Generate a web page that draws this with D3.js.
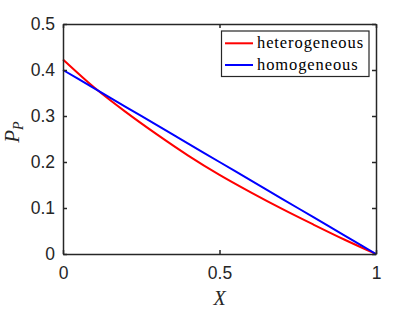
<!DOCTYPE html>
<html lang="en">
  <head>
    <script src="https://d3js.org/d3.v7.min.js"></script>
    <meta charset="utf-8">
    <title></title>
    <style>
      body { margin: 0; background: #fff; }
    </style>
  </head>
  <body>
    <svg id="chart"></svg>
    <script type="text/javascript">

     // values
     var xValues = [0, 0.1, 0.2, 0.3, 0.4, 0.5, 0.6, 0.7, 0.8, 0.9, 1];
     var heterogeneous = [0.423, 0.362, 0.309, 0.260, 0.214, 0.172, 0.134, 0.098, 0.064, 0.031, 0];
     var homogeneous = [0.40, 0.36, 0.32, 0.28, 0.24, 0.20, 0.16, 0.12, 0.08, 0.04, 0];
     var xTicks = [0, 0.5, 1];
     var yTicks = [0, 0.1, 0.2, 0.3, 0.4, 0.5];
     var seriesNames = ["heterogeneous", "homogeneous"];
     var seriesColors = ["#ff0000", "#0000ff"];

     var width = 416;
     var height = 313;
     var plotLeft = 63, plotRight = 376, plotTop = 24, plotBottom = 254;

     var svg = d3.select("#chart")
       .attr("width", width)
       .attr("height", height);

     var x = d3.scaleLinear().domain([0, 1]).range([plotLeft, plotRight]);
     var y = d3.scaleLinear().domain([0, 0.5]).range([plotBottom, plotTop]);

     var line = d3.line()
       .x(function(d){ return x(d[0]); })
       .y(function(d){ return y(d[1]); })
       .curve(d3.curveMonotoneX);

     var series = [heterogeneous, homogeneous];
     series.forEach(function(vals, i)
     {
       svg.append("path")
         .datum(xValues.map(function(v, j){ return [v, vals[j]]; }))
         .attr("d", line)
         .attr("fill", "none")
         .attr("stroke", seriesColors[i])
         .attr("stroke-width", 2);
     });

     var tickFont = "Liberation Sans, Arial, sans-serif";
     var serifFont = "Liberation Serif, serif";
     var axisColor = "#262626";

     // axes with inner ticks (matlab style)
     var bottomAxis = svg.append("g")
       .attr("transform", "translate(0," + plotBottom + ")")
       .call(d3.axisBottom(x).tickValues(xTicks).tickSizeInner(-4).tickSizeOuter(0)
         .tickPadding(13).tickFormat(d3.format("")));
     var leftAxis = svg.append("g")
       .attr("transform", "translate(" + plotLeft + ",0)")
       .call(d3.axisLeft(y).tickValues(yTicks).tickSizeInner(-4).tickSizeOuter(0)
         .tickPadding(8).tickFormat(d3.format("")));
     var topAxis = svg.append("g")
       .attr("transform", "translate(0," + plotTop + ")")
       .call(d3.axisTop(x).tickValues(xTicks).tickSizeInner(-4).tickSizeOuter(0).tickFormat(""));
     var rightAxis = svg.append("g")
       .attr("transform", "translate(" + plotRight + ",0)")
       .call(d3.axisRight(y).tickValues(yTicks).tickSizeInner(-4).tickSizeOuter(0).tickFormat(""));

     [bottomAxis, leftAxis, topAxis, rightAxis].forEach(function(g)
     {
       g.attr("font-family", tickFont);
       g.selectAll("path, line").attr("stroke", axisColor).attr("stroke-width", 1.5);
       g.selectAll("text")
         .attr("fill", axisColor)
         .style("font-family", tickFont)
         .style("font-size", "17.5px");
     });

     // axis labels
     svg.append("text")
       .attr("x", (plotLeft + plotRight) / 2)
       .attr("y", 305)
       .attr("text-anchor", "middle")
       .style("font-family", serifFont)
       .style("font-style", "italic")
       .style("font-size", "20px")
       .attr("fill", axisColor)
       .text("X");

     var ylab = svg.append("text")
       .attr("transform", "translate(19,132) rotate(-90)")
       .attr("text-anchor", "middle")
       .style("font-family", serifFont)
       .style("font-style", "italic")
       .style("font-size", "21px")
       .attr("fill", axisColor);
     ylab.append("tspan").text("P");
     ylab.append("tspan").attr("dy", 4).style("font-size", "14px").text("P");

     // legend
     var legend = svg.append("g");
     legend.append("rect")
       .attr("x", 221.5).attr("y", 31)
       .attr("width", 147.5).attr("height", 45.5)
       .attr("fill", "#fff")
       .attr("stroke", axisColor)
       .attr("stroke-width", 1.2);
     seriesNames.forEach(function(name, i)
     {
       var ly = 43.3 + i * 21.7;
       legend.append("line")
         .attr("x1", 225).attr("x2", 253)
         .attr("y1", ly).attr("y2", ly)
         .attr("stroke", seriesColors[i])
         .attr("stroke-width", 2);
       legend.append("text")
         .attr("x", 257).attr("y", ly + 4.5)
         .style("font-family", serifFont)
         .style("font-size", "16.5px")
         .style("letter-spacing", "0.9px")
         .attr("fill", "#000")
         .text(name);
     });

    </script>
  </body>
</html>
